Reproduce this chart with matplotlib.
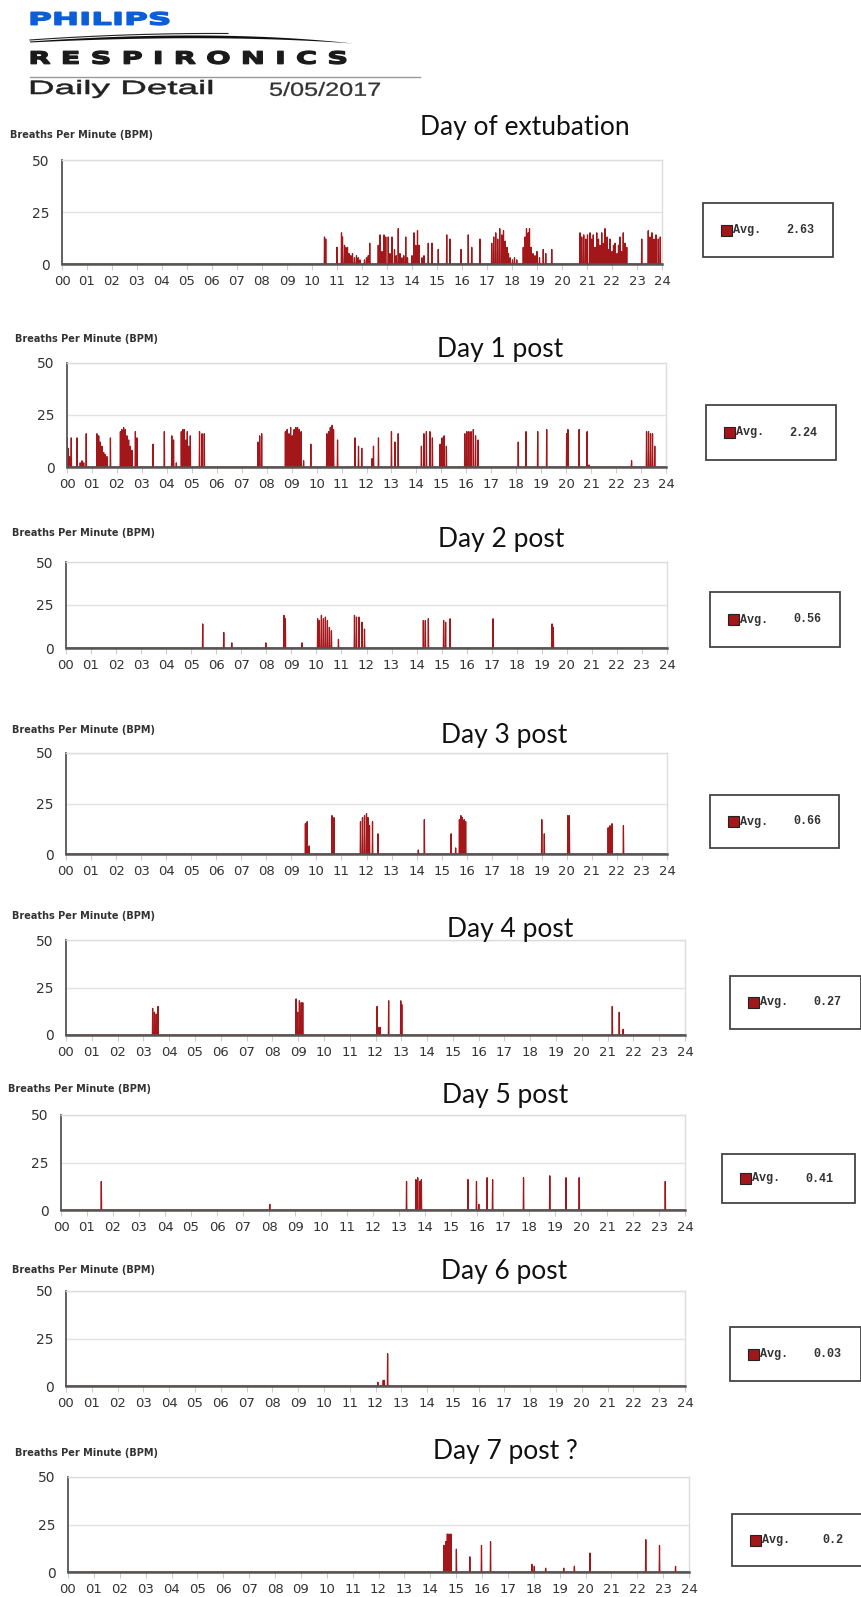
import numpy as np
import matplotlib
matplotlib.use('Agg')
import matplotlib.pyplot as plt
from matplotlib.textpath import TextPath
from matplotlib.font_manager import FontProperties
from matplotlib.patches import PathPatch, Rectangle
from matplotlib.transforms import Affine2D
from matplotlib.lines import Line2D

# ---- data: (hour, breaths per minute) for each spike ----
day0 = [(10.50, 13), (10.55, 12), (11.00, 8), (11.18, 15), (11.22, 13), (11.30, 9), (11.35, 8),
        (11.42, 8), (11.48, 5), (11.55, 4), (11.62, 5), (11.70, 3), (11.78, 4), (11.85, 3),
        (11.92, 2), (12.10, 2), (12.18, 3), (12.25, 4), (12.31, 10), (12.65, 9), (12.72, 14),
        (12.80, 6), (12.88, 14), (12.95, 13), (13.05, 13), (13.12, 5), (13.20, 13), (13.30, 7),
        (13.37, 4), (13.45, 17), (13.52, 5), (13.60, 3), (13.67, 4), (13.75, 13), (13.82, 3),
        (14.00, 4), (14.08, 15), (14.15, 9), (14.22, 16), (14.28, 9), (14.40, 3), (14.48, 4),
        (14.65, 10), (14.80, 10), (15.05, 7), (15.39, 14), (15.52, 12), (15.96, 7), (16.25, 14),
        (16.39, 8), (16.72, 12), (17.19, 10), (17.27, 13), (17.35, 15), (17.43, 12), (17.51, 17),
        (17.59, 14), (17.66, 16), (17.73, 11), (17.80, 8), (17.86, 5), (17.93, 3), (18.02, 2),
        (18.10, 3), (18.19, 2), (18.45, 8), (18.52, 13), (18.58, 17), (18.65, 15), (18.70, 17),
        (18.76, 8), (18.84, 5), (18.92, 4), (19.00, 6), (19.10, 3), (19.25, 7), (19.35, 5),
        (19.59, 7), (20.72, 15), (20.79, 13), (20.87, 14), (20.95, 12), (21.02, 14), (21.12, 15),
        (21.18, 12), (21.25, 14), (21.32, 8), (21.39, 15), (21.46, 12), (21.52, 9), (21.59, 15),
        (21.65, 10), (21.72, 17), (21.80, 13), (21.86, 7), (21.92, 12), (22.00, 6), (22.06, 9),
        (22.12, 10), (22.20, 5), (22.26, 9), (22.32, 13), (22.38, 6), (22.45, 15), (22.52, 10),
        (22.59, 8), (23.19, 12), (23.45, 16), (23.52, 13), (23.60, 15), (23.68, 12), (23.76, 14),
        (23.85, 12), (23.93, 13)]
day1 = [(0.00, 14), (0.05, 9), (0.10, 5), (0.17, 14), (0.40, 14), (0.53, 2), (0.60, 3), (0.67, 2),
        (0.77, 16), (1.20, 16), (1.27, 15), (1.33, 12), (1.40, 10), (1.47, 7), (1.53, 6), (1.60, 5),
        (1.74, 14), (2.14, 17), (2.20, 18), (2.27, 19), (2.34, 18), (2.40, 15), (2.47, 13),
        (2.54, 10), (2.60, 8), (2.74, 17), (2.80, 14), (3.45, 11), (3.90, 17), (4.20, 15),
        (4.27, 13), (4.38, 2), (4.58, 17), (4.64, 18), (4.70, 18), (4.76, 13), (4.82, 17),
        (4.87, 10), (4.94, 15), (5.31, 17), (5.41, 16), (5.50, 16), (7.65, 12), (7.72, 15),
        (7.80, 16), (8.75, 17), (8.82, 18), (8.89, 16), (8.96, 19), (9.03, 15), (9.10, 18),
        (9.17, 19), (9.24, 19), (9.31, 18), (9.38, 17), (9.48, 3), (9.77, 11), (10.41, 16),
        (10.48, 17), (10.55, 19), (10.62, 20), (10.68, 18), (10.84, 13), (11.54, 14), (11.68, 10),
        (11.81, 9), (12.22, 4), (12.28, 10), (12.48, 14), (13.00, 17), (13.14, 12), (13.27, 16),
        (14.20, 10), (14.30, 16), (14.40, 17), (14.54, 17), (14.64, 14), (14.95, 11), (15.03, 14),
        (15.11, 15), (15.20, 10), (15.94, 16), (16.02, 17), (16.10, 17), (16.19, 17), (16.28, 18),
        (16.37, 15), (16.47, 13), (18.08, 12), (18.39, 17), (18.86, 17), (19.22, 18), (20.02, 16),
        (20.07, 18), (20.52, 18), (20.84, 17), (20.92, 1), (22.62, 3), (23.22, 17), (23.30, 17),
        (23.38, 16), (23.46, 16), (23.55, 10)]
day2 = [(5.46, 14), (6.30, 9), (6.62, 3), (7.98, 3), (8.70, 19), (8.76, 17), (9.42, 3),
        (10.05, 17), (10.12, 16), (10.20, 19), (10.28, 17), (10.36, 18), (10.44, 16), (10.52, 12),
        (10.60, 10), (10.88, 5), (11.52, 19), (11.60, 18), (11.70, 18), (11.82, 15), (11.92, 11),
        (14.27, 16), (14.35, 16), (14.47, 17), (15.08, 16), (15.16, 15), (15.34, 17), (17.05, 17),
        (19.41, 14), (19.46, 12)]
day3 = [(9.56, 15), (9.63, 16), (9.71, 4), (10.62, 19), (10.67, 8), (10.70, 18), (11.76, 16),
        (11.84, 18), (11.92, 19), (12.00, 20), (12.06, 18), (12.12, 14), (12.24, 16), (12.46, 10),
        (14.07, 2), (14.31, 17), (15.38, 10), (15.56, 3), (15.71, 17), (15.77, 19), (15.83, 18),
        (15.90, 17), (15.96, 16), (19.00, 17), (19.10, 10), (20.04, 19), (20.10, 19), (21.65, 13),
        (21.72, 14), (21.80, 15), (22.26, 14)]
day4 = [(3.36, 14), (3.43, 12), (3.50, 11), (3.57, 15), (8.92, 19), (8.98, 12), (9.05, 18),
        (9.12, 17), (9.18, 17), (12.06, 15), (12.12, 4), (12.18, 4), (12.51, 18), (12.98, 18),
        (13.02, 16), (21.18, 15), (21.45, 12), (21.60, 3)]
day5 = [(1.55, 15), (8.03, 3), (13.29, 15), (13.65, 16), (13.72, 17), (13.80, 15), (13.86, 16),
        (15.65, 16), (15.98, 15), (16.07, 3), (16.39, 17), (16.60, 16), (17.79, 17), (18.80, 18),
        (19.42, 17), (19.93, 17), (23.24, 15)]
day6 = [(12.09, 2), (12.30, 3), (12.34, 3), (12.47, 17)]
day7 = [(14.53, 14), (14.60, 16), (14.66, 20), (14.72, 20), (14.80, 20), (15.01, 12), (15.53, 8),
        (15.98, 14), (16.33, 16), (17.93, 4), (18.02, 3), (18.46, 2), (19.16, 2), (19.57, 3),
        (20.17, 10), (22.33, 17), (22.86, 14), (23.48, 3)]

days = [day0, day1, day2, day3, day4, day5, day6, day7]
titles = ['Day of extubation', 'Day 1 post', 'Day 2 post', 'Day 3 post',
          'Day 4 post', 'Day 5 post', 'Day 6 post', 'Day 7 post ?']
averages = ['2.63', '2.24', '0.56', '0.66', '0.27', '0.41', '0.03', '0.2']
hour_labels = ['%02d' % h for h in range(25)]

# ---- layout in pixels (left, top, right, bottom), origin top-left ----
W, H = 861, 1597
ax_px = [(62, 160, 662, 264), (67, 363, 666, 467), (66, 562, 667, 648), (66, 753, 667, 854),
         (66, 940, 685, 1035), (61, 1115, 685, 1210), (66, 1291, 685, 1386), (68, 1477, 689, 1572)]
title_px = [(525, 128), (500, 349), (501, 540), (504, 736), (510, 929), (505, 1095),
            (504, 1271), (505, 1452)]
ylab_px = [(10, 135), (15, 339), (12, 533), (12, 730), (12, 916), (8, 1089), (12, 1270), (15, 1453)]
box_px = [(703, 203, 833, 257), (706, 405, 836, 460), (710, 592, 840, 647), (710, 795, 839, 848),
          (730, 976, 861, 1029), (722, 1154, 855, 1203), (730, 1327, 861, 1381),
          (732, 1514, 862, 1566)]

red = '#a3161a'
tick_font = ['Liberation Sans Narrow', 'DejaVu Sans']

fig = plt.figure(figsize=(W / 100, H / 100), dpi=100)


def fx(x):
    return x / W


def fy(y):
    return 1 - y / H


def stretched(s, box, color, prop, stroke=0.0):
    x0, y0, x1, y1 = box
    p = TextPath((0, 0), s, size=10, prop=prop)
    e = p.get_extents()
    tr = (Affine2D().translate(-e.x0, -e.y0)
          .scale((x1 - x0) / e.width / W, (y1 - y0) / e.height / H)
          .translate(fx(x0), fy(y1)))
    fig.add_artist(PathPatch(tr.transform_path(p), facecolor=color, edgecolor=color, lw=stroke,
                             transform=fig.transFigure))


# ---- header ----
stretched('PHILIPS', (31, 12, 169, 25), '#0b5ed7',
          FontProperties(family='DejaVu Sans', weight='bold'), stroke=1.0)
stretched('R E S P I R O N I C S', (31, 51, 346, 64), '#1a1a1a',
          FontProperties(family='DejaVu Sans', weight='bold'), stroke=0.9)
s = np.linspace(0, 1, 60)
top = [(1 - s) ** 2 * a + 2 * (1 - s) * s * b + s ** 2 * c for a, b, c in [(30, 215, 353), (41.5, 28.5, 43.5)]]
bot = [(1 - s) ** 2 * a + 2 * (1 - s) * s * b + s ** 2 * c for a, b, c in [(30, 215, 353), (42.5, 33.5, 43.5)]]
fig.add_artist(plt.Polygon(np.column_stack([fx(np.r_[top[0], bot[0][::-1]]), fy(np.r_[top[1], bot[1][::-1]])]),
                           closed=True, facecolor='#111', edgecolor='none', transform=fig.transFigure))
thin = [(1 - s) ** 2 * a + 2 * (1 - s) * s * b + s ** 2 * c for a, b, c in [(30, 130, 228), (40, 33, 33.5)]]
fig.add_artist(Line2D(fx(thin[0]), fy(thin[1]), color='#222', lw=0.8, transform=fig.transFigure))
fig.add_artist(Line2D([fx(30), fx(420)], [fy(77), fy(77)], color='#999', lw=1.0, transform=fig.transFigure))
stretched('Daily Detail', (31, 80, 212, 98), '#222', FontProperties(family='Liberation Sans'), stroke=0.4)
stretched('5/05/2017', (270, 82, 380, 96), '#333', FontProperties(family='Liberation Sans'), stroke=0.2)

# ---- panels ----
for i, data in enumerate(days):
    l, t, r, b = ax_px[i]
    ax = fig.add_axes([fx(l), fy(b), fx(r - l), (b - t) / H])
    xs, ys = [0], [0]
    for h, v in data:
        xs += [h - 0.012, h, h + 0.012]
        ys += [0, v, 0]
    xs.append(24)
    ys.append(0)
    ax.plot(xs, ys, color=red, lw=0.9)
    ax.set_xlim(0, 24)
    ax.set_ylim(0, 50)
    ax.set_xticks(range(25))
    ax.set_xticklabels(hour_labels, family=tick_font, fontsize=9.5, color='#333')
    ax.set_yticks([0, 25, 50])
    ax.set_yticklabels(['0', '25', '50'], family=tick_font, fontsize=10, color='#333')
    ax.tick_params(axis='x', length=4, color='#cccccc', pad=4)
    ax.tick_params(axis='y', length=0, pad=9)
    ax.yaxis.grid(True, color='#e3e3e3', lw=1)
    ax.set_axisbelow(True)
    ax.spines['left'].set_color('#555')
    ax.spines['left'].set_linewidth(1.3)
    ax.spines['bottom'].set_color('#555')
    ax.spines['bottom'].set_linewidth(1.8)
    for k in ('top', 'right'):
        ax.spines[k].set_color('#dddddd')
        ax.spines[k].set_linewidth(1.0)

    tx, ty = title_px[i]
    fig.text(fx(tx), fy(ty), titles[i], family=['Lato', 'DejaVu Sans'], fontsize=19,
             color='#111', ha='center', va='center')
    lx, ly = ylab_px[i]
    fig.text(fx(lx), fy(ly), 'Breaths Per Minute (BPM)', family='DejaVu Sans', weight='bold',
             fontsize=7, color='#333', ha='left', va='center')

    x0, y0, x1, y1 = box_px[i]
    fig.add_artist(Rectangle((fx(x0), fy(y1)), fx(x1 - x0), (y1 - y0) / H, facecolor='white',
                             edgecolor='#444', lw=1.3, transform=fig.transFigure))
    cy = (y0 + y1) / 2
    fig.add_artist(Rectangle((fx(x0 + 18), fy(cy + 5.5)), fx(11), 11 / H, facecolor=red,
                             edgecolor='#222', lw=0.8, transform=fig.transFigure))
    fig.text(fx(x0 + 30), fy(cy), 'Avg.', family=['Liberation Mono', 'DejaVu Sans Mono'],
             weight='bold', fontsize=8.5, color='#333', ha='left', va='center')
    fig.text(fx(x0 + 111), fy(cy), averages[i], family=['Liberation Mono', 'DejaVu Sans Mono'],
             weight='bold', fontsize=8.5, color='#333', ha='right', va='center')

fig.savefig('out.png', dpi=100, facecolor='white')
